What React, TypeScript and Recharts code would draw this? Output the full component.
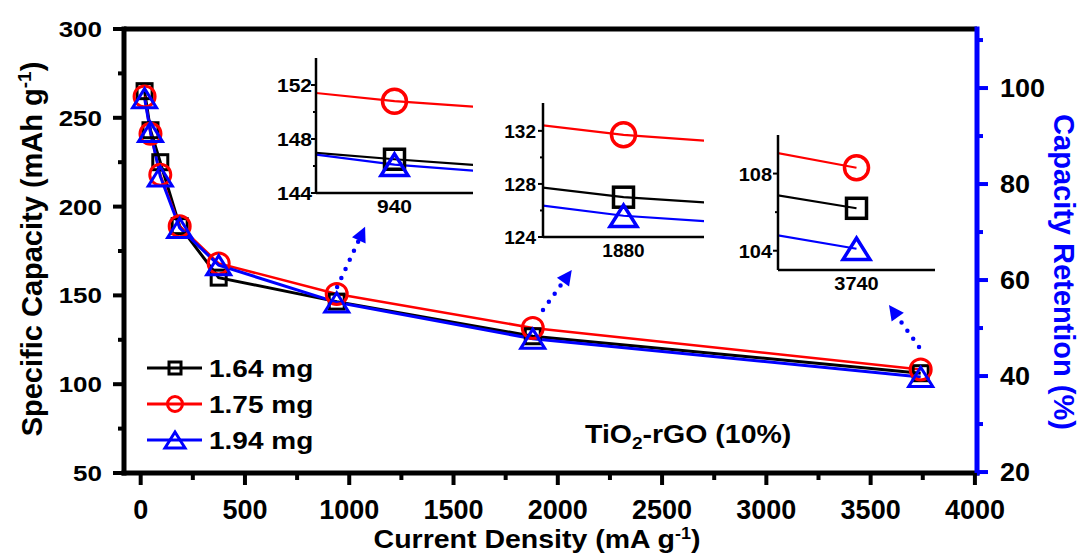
import React from "react";
import { Label, Legend, Line, LineChart, ReferenceLine, XAxis, YAxis } from "recharts";

const FONT = '"Liberation Sans", Arial, Helvetica, sans-serif';
const BLACK = "#000000";
const RED = "#ff0000";
const BLUE = "#0000ff";

// rate test, TiO2-rGO (10%) electrodes with three loadings
const currentDensity = [18.7, 47, 94, 187, 374, 940, 1880, 3740];
const capacity164 = [265, 243, 225, 189, 160, 146.5, 127.0, 106.2];
const capacity175 = [262, 241, 218, 189, 168, 150.8, 131.7, 108.3];
const capacity194 = [261, 242, 217, 188, 167, 146.1, 125.6, 104.1];

const densityTicks = [0, 250, 500, 750, 1000, 1250, 1500, 1750, 2000, 2250, 2500, 2750, 3000, 3250, 3500, 3750, 4000];
const capacityTicks = [50, 75, 100, 125, 150, 175, 200, 225, 250, 275, 300];
const retentionTicks = [20, 30, 40, 50, 60, 70, 80, 90, 100, 110];

// zoomed views around the three high-rate points
const insetFocus = [940, 1880, 3740];
const insetTicks = [
  [144, 146, 148, 150, 152],
  [124, 126, 128, 130, 132],
  [104, 106, 108],
];

// dotted pointers from the data points up to the zoomed views
const pointerFrom = [[942, 154.7], [1929, 141.8], [3732, 121]];
const pointerTo = [[1076, 188.7], [2067, 164.3], [3588, 144.6]];

type Shape = "square" | "circle" | "triangle";

const SERIES: { key: string; name: string; color: string; shape: Shape; width: number }[] = [
  { key: "m164", name: "1.64 mg", color: BLACK, shape: "square", width: 3 },
  { key: "m175", name: "1.75 mg", color: RED, shape: "circle", width: 2.5 },
  { key: "m194", name: "1.94 mg", color: BLUE, shape: "triangle", width: 3 },
];

const rows = currentDensity.map((x, i) => ({
  x,
  m164: capacity164[i],
  m175: capacity175[i],
  m194: capacity194[i],
}));

const MAIN_SIZE: Record<Shape, number> = { square: 15, circle: 21, triangle: 24 };
const INSET_SIZE: Record<Shape, number> = { square: 20, circle: 24, triangle: 27 };
const LEGEND_SIZE: Record<Shape, number> = { square: 12, circle: 15, triangle: 20 };

const INSETS = [
  { left: 316, top: 58, w: 157, h: 135, pad: 20, domain: [144, 154], font: 21, sy: 0.88, labelGap: 4 },
  { left: 543, top: 103, w: 161, h: 134, pad: 35, domain: [124, 134.1], font: 19, sy: 1, labelGap: 7 },
  { left: 778, top: 135, w: 157, h: 135, pad: 60, domain: [103, 110], font: 20, sy: 0.92, labelGap: 6 },
];

function Marker({ shape, cx, cy, s, color, sw }: { shape: Shape; cx?: number; cy?: number; s: number; color: string; sw: number }) {
  if (cx == null || cy == null || Number.isNaN(cx) || Number.isNaN(cy)) return null;
  if (shape === "square") {
    return <rect x={cx - s / 2} y={cy - s / 2} width={s} height={s} fill="none" stroke={color} strokeWidth={sw} />;
  }
  if (shape === "circle") {
    return <circle cx={cx} cy={cy} r={s / 2} fill="none" stroke={color} strokeWidth={sw} />;
  }
  const h = s * 0.8;
  return (
    <polygon
      points={`${cx},${cy - h / 2} ${cx + s / 2},${cy + h / 2} ${cx - s / 2},${cy + h / 2}`}
      fill="none"
      stroke={color}
      strokeWidth={sw}
    />
  );
}

// bold label, optionally squeezed vertically
function T({ x, y, size, sy = 1, anchor = "start", fill = BLACK, children }: any) {
  return (
    <text
      transform={`translate(${x},${y}) scale(1,${sy})`}
      textAnchor={anchor}
      fontFamily={FONT}
      fontWeight="bold"
      fontSize={size}
      fill={fill}
    >
      {children}
    </text>
  );
}

const LeftTick = ({ x, y, payload }: any) => {
  const major = payload.value % 50 === 0;
  return (
    <g>
      <line x1={x} y1={y} x2={x - (major ? 11 : 6)} y2={y} stroke={BLACK} strokeWidth={4} />
      {major && (
        <T x={x - 22} y={y + 8} size={26} sy={0.88} anchor="end">
          {payload.value}
        </T>
      )}
    </g>
  );
};

const RightTick = ({ x, y, payload }: any) => {
  const major = payload.value % 20 === 0;
  return (
    <g>
      <line x1={x} y1={y} x2={x + (major ? 11 : 6)} y2={y} stroke={BLUE} strokeWidth={4} />
      {major && (
        <T x={x + 23} y={y + 9} size={27} sy={0.95}>
          {payload.value}
        </T>
      )}
    </g>
  );
};

const BottomTick = ({ x, y, payload }: any) => {
  const major = payload.value % 500 === 0;
  return (
    <g>
      <line x1={x} y1={y} x2={x} y2={y + (major ? 12 : 7)} stroke={BLACK} strokeWidth={4} />
      {major && (
        <T x={x} y={y + 46} size={27} anchor="middle">
          {payload.value}
        </T>
      )}
    </g>
  );
};

const Pointer = ({ x1, y1, x2, y2 }: any) => {
  const dx = x2 - x1;
  const dy = y2 - y1;
  const len = Math.hypot(dx, dy) || 1;
  const ux = dx / len;
  const uy = dy / len;
  const head = 15;
  const half = 7.5;
  const bx = x2 - ux * head;
  const by = y2 - uy * head;
  return (
    <g>
      <line
        x1={x1}
        y1={y1}
        x2={bx}
        y2={by}
        stroke={BLUE}
        strokeWidth={4.5}
        strokeLinecap="round"
        strokeDasharray="0 10"
      />
      <polygon
        points={`${x2},${y2} ${bx - uy * half},${by + ux * half} ${bx + uy * half},${by - ux * half}`}
        fill={BLUE}
      />
    </g>
  );
};

const LegendBox = () => (
  <svg width={230} height={115}>
    {SERIES.map((s, i) => {
      const cy = 23 + i * 36;
      return (
        <g key={s.key}>
          <line x1={7} y1={cy} x2={62} y2={cy} stroke={s.color} strokeWidth={3} />
          <Marker shape={s.shape} cx={35} cy={cy} s={LEGEND_SIZE[s.shape]} color={s.color} sw={3} />
          <T x={69} y={cy + 9} size={28} sy={0.88}>
            {s.name}
          </T>
        </g>
      );
    })}
  </svg>
);

function Inset({ index }: { index: number }) {
  const spec = INSETS[index];
  const focus = insetFocus[index];
  const axisW = 48;
  const top = 6;
  const right = 8;
  const bottom = 26;
  return (
    <div style={{ position: "absolute", left: spec.left - axisW, top: spec.top - top }}>
      <LineChart
        width={axisW + spec.w + right}
        height={top + spec.h + bottom}
        data={rows}
        margin={{ top, right, bottom: 0, left: 0 }}
      >
        <XAxis
          type="number"
          dataKey="x"
          domain={[focus - spec.pad, focus + spec.pad]}
          allowDataOverflow
          ticks={[focus]}
          interval={0}
          height={bottom}
          tickSize={0}
          tickMargin={0}
          tickLine={false}
          axisLine={{ stroke: BLACK, strokeWidth: 2.5 }}
          tick={({ x, y, payload }: any) => (
            <T x={x} y={y + 20} size={spec.font} sy={spec.sy} anchor="middle">
              {payload.value}
            </T>
          )}
        />
        <YAxis
          type="number"
          domain={spec.domain}
          allowDataOverflow
          ticks={insetTicks[index]}
          interval={0}
          width={axisW}
          tickSize={0}
          tickMargin={0}
          tickLine={false}
          axisLine={{ stroke: BLACK, strokeWidth: 2.5 }}
          tick={({ x, y, payload }: any) => {
            const major = payload.value % 4 === 0;
            return (
              <g>
                <line x1={x} y1={y} x2={x - (major ? 5 : 3)} y2={y} stroke={BLACK} strokeWidth={2} />
                {major && (
                  <T x={x - spec.labelGap} y={y + 7} size={spec.font} sy={spec.sy} anchor="end">
                    {payload.value}
                  </T>
                )}
              </g>
            );
          }}
        />
        {SERIES.map((s) => (
          <Line
            key={s.key}
            dataKey={s.key}
            type="linear"
            stroke={s.color}
            strokeWidth={2.2}
            isAnimationActive={false}
            activeDot={false}
            dot={(p: any) => (
              <Marker
                key={`${s.key}-${p.index}`}
                shape={s.shape}
                cx={p.cx}
                cy={p.cy}
                s={INSET_SIZE[s.shape]}
                color={s.color}
                sw={3.5}
              />
            )}
          />
        ))}
      </LineChart>
    </div>
  );
}

export default function App() {
  return (
    <div style={{ position: "absolute", left: 0, top: 0, width: 1079, height: 557, background: "#fff" }}>
      <LineChart width={1079} height={557} data={rows} margin={{ top: 29, right: 32, bottom: 34, left: 54 }}>
        <XAxis
          type="number"
          dataKey="x"
          domain={[-80, 4010]}
          ticks={densityTicks}
          interval={0}
          height={50}
          tickSize={0}
          tickMargin={0}
          tickLine={false}
          axisLine={{ stroke: BLACK, strokeWidth: 5, strokeLinecap: "square" }}
          tick={BottomTick}
        >
          <Label
            content={() => (
              <T x={537} y={548} size={28.5} sy={0.9} anchor="middle">
                Current Density (mA g
                <tspan dy={-10} fontSize={18}>
                  -1
                </tspan>
                <tspan dy={10}>)</tspan>
              </T>
            )}
          />
        </XAxis>
        <YAxis
          yAxisId="left"
          type="number"
          domain={[50, 300]}
          ticks={capacityTicks}
          interval={0}
          width={70}
          tickSize={0}
          tickMargin={0}
          tickLine={false}
          axisLine={{ stroke: BLACK, strokeWidth: 5, strokeLinecap: "square" }}
          tick={LeftTick}
        >
          <Label
            content={() => (
              <text
                transform="translate(42,249) rotate(-90)"
                textAnchor="middle"
                fontFamily={FONT}
                fontWeight="bold"
                fontSize={29}
                fill={BLACK}
              >
                Specific Capacity (mAh g
                <tspan dy={-11} fontSize={19}>
                  -1
                </tspan>
                <tspan dy={11}>)</tspan>
              </text>
            )}
          />
        </YAxis>
        <YAxis
          yAxisId="right"
          orientation="right"
          type="number"
          domain={[19.8, 112.3]}
          allowDataOverflow
          ticks={retentionTicks}
          interval={0}
          width={70}
          tickSize={0}
          tickMargin={0}
          tickLine={false}
          axisLine={{ stroke: BLUE, strokeWidth: 5, strokeLinecap: "square" }}
          tick={RightTick}
        >
          <Label
            content={() => (
              <text
                transform="translate(1054,272) rotate(90)"
                textAnchor="middle"
                fontFamily={FONT}
                fontWeight="bold"
                fontSize={29}
                fill={BLUE}
              >
                Capacity Retention (%)
              </text>
            )}
          />
        </YAxis>
        <ReferenceLine yAxisId="left" y={300} stroke={BLACK} strokeWidth={5} />
        {SERIES.map((s) => (
          <Line
            key={s.key}
            yAxisId="left"
            dataKey={s.key}
            name={s.name}
            type="linear"
            stroke={s.color}
            strokeWidth={s.width}
            isAnimationActive={false}
            activeDot={false}
            dot={(p: any) => (
              <Marker
                key={`${s.key}-${p.index}`}
                shape={s.shape}
                cx={p.cx}
                cy={p.cy}
                s={MAIN_SIZE[s.shape]}
                color={s.color}
                sw={3}
              />
            )}
          />
        ))}
        {pointerFrom.map((from, i) => (
          <ReferenceLine
            key={`ptr-${i}`}
            yAxisId="left"
            segment={[
              { x: from[0], y: from[1] },
              { x: pointerTo[i][0], y: pointerTo[i][1] },
            ]}
            ifOverflow="visible"
            shape={Pointer}
          />
        ))}
        <Legend
          layout="vertical"
          align="center"
          verticalAlign="middle"
          wrapperStyle={{ left: 140, top: 345, width: 230, height: 115 }}
          content={() => <LegendBox />}
        />
      </LineChart>
      <svg
        width={1079}
        height={557}
        style={{ position: "absolute", left: 0, top: 0, pointerEvents: "none" }}
      >
        <T x={585} y={443} size={28.5} sy={0.88}>
          TiO
          <tspan dy={7} fontSize={19}>
            2
          </tspan>
          <tspan dy={-7}>-rGO (10%)</tspan>
        </T>
      </svg>
      {insetFocus.map((_, i) => (
        <Inset key={i} index={i} />
      ))}
    </div>
  );
}
